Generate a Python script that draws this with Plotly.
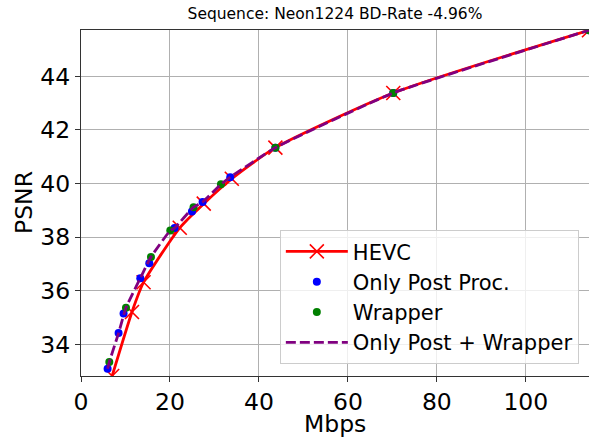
import plotly.graph_objects as go

# HEVC anchor
hevc_rate = [7.0, 11.46, 14.07, 22.2, 27.6, 33.9, 43.7, 70.2, 114.2]
hevc_psnr = [32.82, 35.21, 36.32, 38.35, 39.25, 40.18, 41.34, 43.38, 45.72]

# Only Post Proc.
post_rate = [5.98, 8.45, 9.57, 13.33, 15.35, 21.03, 24.94, 27.33, 33.55, 43.7, 70.2, 114.2]
post_psnr = [33.09, 34.42, 35.15, 36.47, 37.03, 38.34, 38.96, 39.31, 40.24, 41.34, 43.38, 45.72]

# Wrapper
wrap_rate = [6.36, 10.11, 15.73, 20.07, 25.3, 31.46, 43.7, 70.2, 114.2]
wrap_psnr = [33.34, 35.37, 37.26, 38.25, 39.12, 39.97, 41.34, 43.38, 45.72]

# Only Post + Wrapper (combined curve)
comb_rate = [5.98, 6.36, 8.45, 10.11, 13.33, 15.73, 20.07, 21.03, 25.3, 27.33, 31.46, 33.55, 43.7, 70.2, 114.2]
comb_psnr = [33.09, 33.34, 34.42, 35.37, 36.47, 37.26, 38.25, 38.34, 39.12, 39.31, 39.97, 40.24, 41.34, 43.38, 45.72]

title_text = "Sequence: Neon1224 BD-Rate -4.96%"
x_title = "Mbps"
y_title = "PSNR"
x_ticks = [0, 20, 40, 60, 80, 100]
y_ticks = [34, 36, 38, 40, 42, 44]

FONT = "DejaVu Sans"
W, H = 589, 438
L, R, T = 81, 0, 30
plot_h = 345.7
B = H - T - plot_h
plot_w = W - L - R

fig = go.Figure()
fig.add_trace(go.Scatter(
    x=hevc_rate, y=hevc_psnr, name="HEVC", mode="lines+markers",
    line=dict(color="#ff0000", width=2.8, shape="spline", smoothing=0.6),
    marker=dict(symbol="x-thin", size=14, line=dict(color="#ff0000", width=1.6)),
))
fig.add_trace(go.Scatter(
    x=post_rate, y=post_psnr, name="Only Post Proc.", mode="markers",
    marker=dict(color="#0000ff", size=8),
))
fig.add_trace(go.Scatter(
    x=wrap_rate, y=wrap_psnr, name="Wrapper", mode="markers",
    marker=dict(color="#008000", size=8),
))
fig.add_trace(go.Scatter(
    x=comb_rate, y=comb_psnr, name="Only Post + Wrapper", mode="lines",
    line=dict(color="#800080", width=2.8, dash="10px,4px", shape="spline", smoothing=0.4),
))

fig.update_layout(
    width=W, height=H,
    margin=dict(l=L, r=R, t=T, b=B, autoexpand=False),
    paper_bgcolor="white", plot_bgcolor="white",
    font=dict(family=FONT, color="black"),
    title=dict(text=title_text, x=335 / W, xanchor="center", y=1 - 14 / H, yanchor="middle",
               font=dict(size=15.5, family=FONT, color="black")),
    showlegend=True,
    legend=dict(
        x=0.980, y=0.034, xanchor="right", yanchor="bottom",
        bgcolor="rgba(255,255,255,0.8)", bordercolor="#cccccc", borderwidth=1,
        font=dict(size=21, family=FONT, color="black"),
        tracegroupgap=0, itemwidth=62,
    ),
    annotations=[
        dict(text=x_title, xref="paper", yref="paper", x=0.5,
             y=-(424 - (T + plot_h)) / plot_h,
             xanchor="center", yanchor="middle", showarrow=False,
             font=dict(size=23.5, family=FONT, color="black")),
        dict(text=y_title, xref="paper", yref="paper", x=-(L - 24) / plot_w, y=0.5,
             xanchor="center", yanchor="middle", showarrow=False, textangle=-90,
             font=dict(size=23.5, family=FONT, color="black")),
    ],
)
fig.update_xaxes(
    range=[0, 114.2], tickvals=x_ticks, ticktext=[str(v) for v in x_ticks],
    showgrid=True, gridcolor="#b0b0b0", gridwidth=1,
    showline=True, linecolor="#333333", linewidth=1.2, mirror=True,
    ticks="outside", ticklen=5, tickwidth=1.1, tickcolor="#333333",
    tickfont=dict(size=23.5, family=FONT, color="black"),
    zeroline=False, automargin=False,
)
fig.update_yaxes(
    range=[32.82, 45.73], tickvals=y_ticks, ticktext=[str(v) for v in y_ticks],
    showgrid=True, gridcolor="#b0b0b0", gridwidth=1,
    showline=True, linecolor="#333333", linewidth=1.2,
    ticks="outside", ticklen=5, tickwidth=1.1, tickcolor="#333333",
    tickfont=dict(size=23.5, family=FONT, color="black"),
    zeroline=False, automargin=False,
)

fig.write_html(
    "out.html",
    config={"displayModeBar": False},
    post_script="document.body.style.margin='0px'; document.body.style.overflow='hidden';",
)
